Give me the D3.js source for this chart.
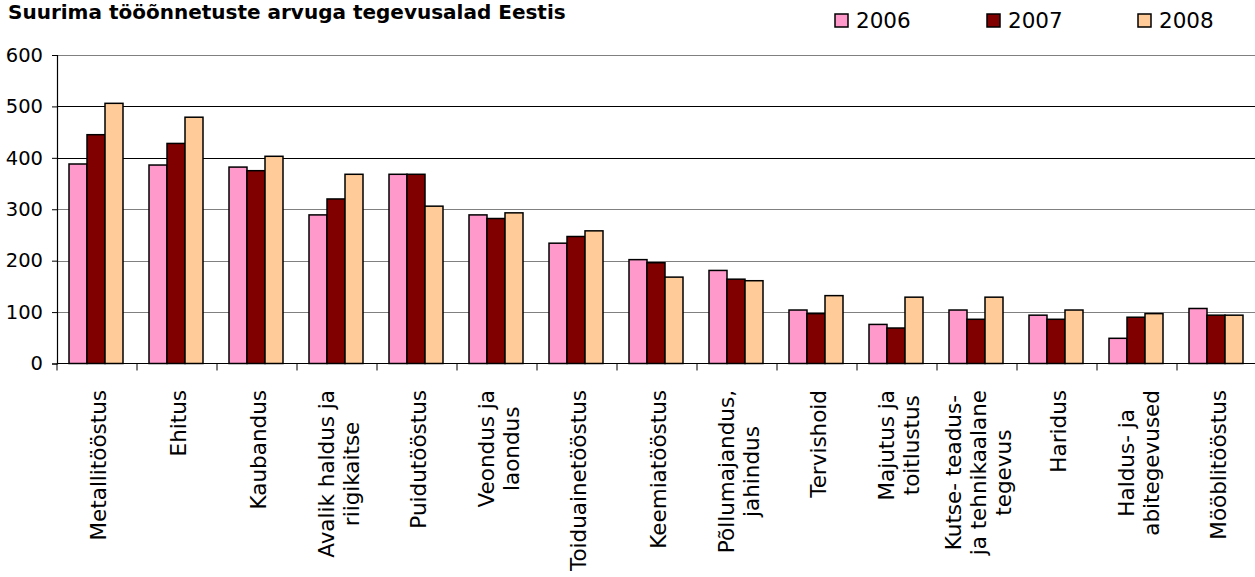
<!DOCTYPE html>
<html><head><meta charset="utf-8">
<script src="https://cdn.jsdelivr.net/npm/d3@7"></script>
<style>
body{margin:0;background:#fff;}
text{font-family:"DejaVu Sans",Verdana,sans-serif;}
</style></head>
<body><svg id="c" width="1255" height="577"></svg>
<script>
const title = "Suurima tööõnnetuste arvuga tegevusalad Eestis";
const categories = [
  ["Metallitööstus"],
  ["Ehitus"],
  ["Kaubandus"],
  ["Avalik haldus ja","riigikaitse"],
  ["Puidutööstus"],
  ["Veondus ja","laondus"],
  ["Toiduainetööstus"],
  ["Keemiatööstus"],
  ["Põllumajandus,","jahindus"],
  ["Tervishoid"],
  ["Majutus ja","toitlustus"],
  ["Kutse- teadus-","ja tehnikaalane","tegevus"],
  ["Haridus"],
  ["Haldus- ja","abitegevused"],
  ["Mööblitööstus"]
];
const seriesNames = ["2006","2007","2008"];
const v2006 = [388,386,382,289,368,289,234,202,181,104,76,104,94,49,107];
const v2007 = [445,428,375,320,368,282,247,196,164,97,69,86,86,90,94];
const v2008 = [506,479,403,368,306,293,258,168,161,132,129,129,104,97,94];
const yTicks = [0,100,200,300,400,500,600];
const colors = ["#FF99CC","#800000","#FFCC99"];

(function(){
const series = [v2006, v2007, v2008];
const svg = d3.select("#c");
const pLeft = 57, pRight = 1257, pTop = 55, pBottom = 363.5;

const x = d3.scaleBand().domain(d3.range(categories.length)).range([pLeft, pRight]).padding(0);
const xi = d3.scaleBand().domain(d3.range(series.length)).range([12, 66]).padding(0);
const y = d3.scaleLinear().domain([0,600]).range([pBottom, pTop]);

// gridlines
svg.append("g").selectAll("line").data(yTicks.filter(d=>d>0)).join("line")
  .attr("x1", pLeft).attr("x2", 1255)
  .attr("y1", d=>Math.round(y(d))+0.5).attr("y2", d=>Math.round(y(d))+0.5)
  .attr("stroke", d => (d===400||d===500) ? "#000" : "#808080").attr("stroke-width", 1.2);

// bars
const g = svg.append("g");
series.forEach((s, si) => {
  g.append("g").selectAll("rect").data(s).join("rect")
    .attr("x", (d,i)=> x(i) + xi(si))
    .attr("width", xi.bandwidth())
    .attr("y", d=>y(d))
    .attr("height", d=> y(0)-y(d))
    .attr("fill", colors[si])
    .attr("stroke", "#000").attr("stroke-width", 1.5);
});

// y axis
const ya = svg.append("g").attr("transform", `translate(${pLeft},0)`)
  .call(d3.axisLeft(y).tickValues(yTicks).tickSize(5).tickPadding(9));
ya.select(".domain").attr("stroke","#000").attr("stroke-width",1.2);
ya.selectAll(".tick line").attr("stroke","#000");
ya.selectAll(".tick text").attr("font-size", 19.5).attr("fill","#000")
  .style("font-family",'"DejaVu Sans",Verdana,sans-serif');

// x axis baseline and ticks
const xa = svg.append("g").attr("transform", `translate(0,${pBottom})`);
xa.append("line").attr("x1", pLeft).attr("x2", 1255).attr("stroke","#000").attr("stroke-width",1.2);
xa.selectAll("line.t").data(d3.range(categories.length+1)).join("line").attr("class","t")
  .attr("x1", i => i<categories.length ? x(i) : pRight).attr("x2", i => i<categories.length ? x(i) : pRight)
  .attr("y1",0).attr("y2",7).attr("stroke","#000");

// category labels, rotated, lines centered in block whose top is at labelTop
const labelTop = 390, fs = 21.5, lh = 25;
categories.forEach((lines, i) => {
  const cx = x(i) + x.bandwidth()/2;
  const lg = svg.append("g");
  const texts = lines.map(l => lg.append("text").text(l).attr("font-size", fs).attr("fill","#000"));
  const maxLen = d3.max(texts, t => t.node().getComputedTextLength());
  const centerY = labelTop + maxLen/2;
  const n = lines.length;
  texts.forEach((t, k) => {
    const bx = cx + (k - (n-1)/2) * lh + fs*0.42;
    t.attr("text-anchor","middle")
     .attr("transform", `translate(${bx},${centerY}) rotate(-90)`);
  });
});

// title
svg.append("text").attr("x", 8).attr("y", 19).text(title)
  .attr("font-size", 20).attr("font-weight","bold").attr("fill","#000");

// legend
const legX = [835, 987, 1138];
seriesNames.forEach((n, i) => {
  svg.append("rect").attr("x", legX[i]).attr("y", 14).attr("width", 13).attr("height", 13)
    .attr("fill", colors[i]).attr("stroke","#000").attr("stroke-width",1.5);
  svg.append("text").attr("x", legX[i]+21).attr("y", 28).text(n)
    .attr("font-size", 21.5).attr("fill","#000");
});
})();
</script></body></html>
